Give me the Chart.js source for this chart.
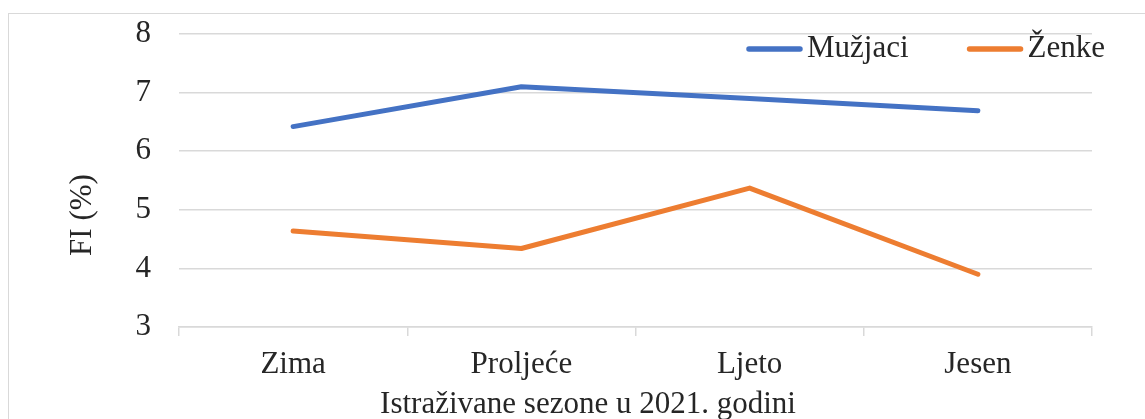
<!DOCTYPE html>
<html>
<head>
<meta charset="utf-8">
<script src="https://cdn.jsdelivr.net/npm/chart.js@4.4.1/dist/chart.umd.min.js"></script>
<style>
  html, body { margin: 0; padding: 0; background: #ffffff; overflow: hidden; }
  #wrap { position: relative; width: 1145px; height: 419px; overflow: hidden; }
  #frame { position: absolute; left: 8px; top: 13px; width: 2000px; height: 2000px;
           border: 1.5px solid #d9d9d9; box-sizing: border-box; }
  canvas { position: absolute; left: 0; top: 0; }
</style>
</head>
<body>
<div id="wrap">
  <div id="frame"></div>
  <canvas id="c" width="1145" height="419"></canvas>
</div>
<script>
const categories = ["Zima", "Proljeće", "Ljeto", "Jesen"];
const seriesNames = ["Mužjaci", "Ženke"];
const muzjaci = [6.42, 7.10, 6.90, 6.69];
const zenke = [4.64, 4.34, 5.37, 3.90];
const yTicks = [3, 4, 5, 6, 7, 8];
const xTitle = "Istraživane sezone u 2021. godini";
const yTitle = "FI (%)";

const FONT = "'Liberation Serif', 'Times New Roman', serif";
const FS = 31;
const TEXT = "#262626";
const GRID = "#d9d9d9";

const overlay = {
  id: "overlay",
  afterDraw(chart) {
    const ctx = chart.ctx;
    const ca = chart.chartArea;
    ctx.save();
    ctx.font = FS + "px " + FONT;
    ctx.fillStyle = TEXT;
    ctx.textBaseline = "middle";
    // legend
    const lineLen = 55, gapText = 5, itemGap = 59;
    const ds = chart.data.datasets;
    const widths = ds.map(d => ctx.measureText(d.label).width);
    let total = 0;
    ds.forEach((d, i) => { total += lineLen + gapText + widths[i]; if (i < ds.length - 1) total += itemGap; });
    let x = ca.right + 13 - total;
    const ly = ca.top + 15;
    ds.forEach((d, i) => {
      ctx.strokeStyle = d.borderColor;
      ctx.lineWidth = 5.5;
      ctx.lineCap = "round";
      ctx.beginPath();
      ctx.moveTo(x + 2, ly);
      ctx.lineTo(x + lineLen - 2, ly);
      ctx.stroke();
      ctx.textAlign = "left";
      ctx.fillText(d.label, x + lineLen + gapText, ly);
      x += lineLen + gapText + widths[i] + itemGap;
    });
    // x title
    ctx.textAlign = "center";
    ctx.fillText(xTitle, 588, 405);
    // y title
    ctx.translate(83, 215);
    ctx.rotate(-Math.PI / 2);
    ctx.fillText(yTitle, 0, 0);
    ctx.restore();
  }
};

new Chart(document.getElementById("c"), {
  type: "line",
  data: {
    labels: categories,
    datasets: [
      { label: seriesNames[0], data: muzjaci, borderColor: "#4472C4", backgroundColor: "#4472C4" },
      { label: seriesNames[1], data: zenke, borderColor: "#ED7D31", backgroundColor: "#ED7D31" }
    ]
  },
  options: {
    responsive: false,
    animation: false,
    devicePixelRatio: 1,
    layout: { padding: { left: 0, top: 34, right: 53, bottom: 0 } },
    elements: {
      line: { borderWidth: 5, tension: 0, borderCapStyle: "round", borderJoinStyle: "round" },
      point: { radius: 0, hoverRadius: 0 }
    },
    plugins: { legend: { display: false }, tooltip: { enabled: false }, title: { display: false } },
    scales: {
      x: {
        type: "category",
        offset: true,
        grid: { display: true, offset: true, drawOnChartArea: false, drawTicks: true, tickLength: 9, color: GRID, lineWidth: 1.5 },
        border: { display: true, color: GRID, width: 1.5 },
        ticks: { color: TEXT, font: { family: FONT, size: FS }, padding: 10, maxRotation: 0 },
        afterFit(scale) { scale.height = 92; scale.paddingLeft = 0; scale.paddingRight = 0; }
      },
      y: {
        min: 3, max: 8,
        afterBuildTicks(scale) { scale.ticks = yTicks.map(v => ({ value: v })); },
        grid: { color: GRID, lineWidth: 1.5, drawTicks: false },
        border: { display: false },
        ticks: { color: TEXT, font: { family: FONT, size: FS }, padding: 28 },
        afterFit(scale) { scale.width = 179; scale.paddingTop = 0; scale.paddingBottom = 0; }
      }
    }
  },
  plugins: [overlay]
});
</script>
</body>
</html>
